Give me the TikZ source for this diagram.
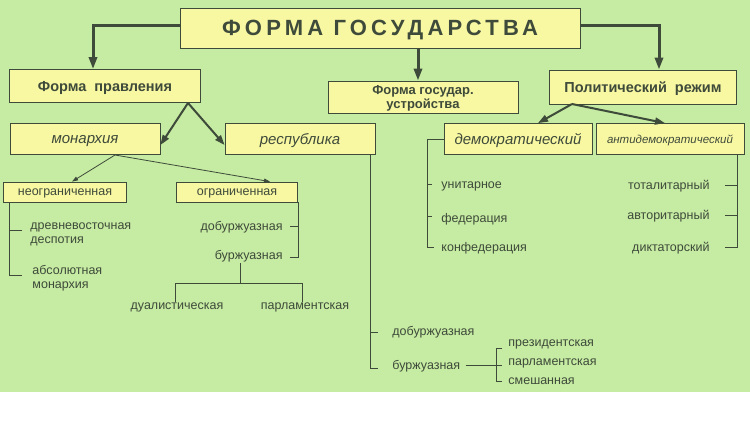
\documentclass[tikz,border=0pt]{standalone}
\usepackage{fontspec}
\setmainfont{Liberation Sans}
\usetikzlibrary{arrows.meta}
\definecolor{bg}{HTML}{C6EBA2}
\definecolor{boxfill}{HTML}{F8F7A2}
\definecolor{ink}{HTML}{3E4A3A}
\begin{document}
\begin{tikzpicture}[x=1pt, y=-1pt, line width=0.9pt, draw=ink,
	box/.style={draw=ink, fill=boxfill, line width=0.8pt, inner sep=0pt, text=ink, text depth=0pt},
	txt/.style={inner sep=0pt, text=ink, text depth=0pt, font=\fontsize{12.5}{14}\selectfont},
	big/.style={-{Triangle[length=12pt, width=8pt]}, line width=3pt, ink},
	mid/.style={-{Triangle[length=10pt, width=7pt]}, line width=2pt, ink},
	thin/.style={-{Triangle[length=6pt, width=4pt]}, line width=0.8pt, ink}]
	\useasboundingbox (0,0) rectangle (750,426);
	\fill[bg] (0,0) rectangle (750,392);
	\fill[white] (0,392) rectangle (750,426);

	% top row
	\node[box, minimum width=400, minimum height=40, font=\bfseries\fontsize{22}{22}\selectfont\addfontfeatures{LetterSpace=19}] (title) at (380,28) {ФОРМА ГОСУДАРСТВА};
	\node[box, minimum width=191, minimum height=33, font=\bfseries\fontsize{14.5}{15}\selectfont] (prav) at (105,86) {Форма\ \ правления};
	\node[box, minimum width=190, minimum height=32, align=center, font=\bfseries\fontsize{13}{11}\selectfont] (ustr) at (423,97) {Форма государ.\\устройства};
	\node[box, minimum width=187, minimum height=34, font=\bfseries\fontsize{14.5}{15}\selectfont] (rezh) at (643,87) {Политический\ \ режим};

	% second row
	\node[box, minimum width=150, minimum height=31, font=\itshape\fontsize{15}{15}\selectfont] (mon) at (85,139) {монархия};
	\node[box, minimum width=150, minimum height=31, font=\itshape\fontsize{15}{15}\selectfont] (resp) at (300,139) {республика};
	\node[box, minimum width=148, minimum height=31, font=\itshape\fontsize{15}{15}\selectfont] (dem) at (518,139) {демократический};
	\node[box, minimum width=148, minimum height=31, font=\itshape\fontsize{11.5}{12}\selectfont] (antidem) at (670,139) {антидемократический};
	\node[box, minimum width=123, minimum height=20, font=\fontsize{12.5}{13}\selectfont] (neogr) at (65,192) {неограниченная};
	\node[box, minimum width=121, minimum height=20, font=\fontsize{12.5}{13}\selectfont] (ogr) at (237,192) {ограниченная};

	% arrows
	\draw[big] (title.west |- 0,25) -| (prav.north -| 93,0);
	\draw[big] (title.south -| 418,0) -- (ustr.north -| 418,0);
	\draw[big] (title.east |- 0,25) -| (rezh.north -| 659,0);
	\draw[mid] (188,103) -- (mon.east |- 0,145);
	\draw[mid] (188,103) -- (resp.west |- 0,145);
	\draw[mid] (572,104) -- (dem.north -| 538,0);
	\draw[mid] (572,104) -- (antidem.north -| 665,0);
	\draw[thin] (115,155) -- (neogr.north -| 72,0);
	\draw[thin] (115,155) -- (ogr.north -| 270,0);

	% leaves under неограниченная
	\node[txt, anchor=west, align=left] (drev) at (30,233) {древневосточная\\деспотия};
	\node[txt, anchor=west, align=left] (abs) at (32,277) {абсолютная\\монархия};
	\draw (neogr.south -| 9,0) -- (9,275) -- (22,275);
	\draw (9,230) -- (22,230);

	% leaves under ограниченная
	\node[txt, anchor=east] (dob1) at (283,226) {добуржуазная};
	\node[txt, anchor=east] (bur1) at (283,255) {буржуазная};
	\node[txt] (dual) at (177,306) {дуалистическая};
	\node[txt] (parl1) at (305,306) {парламентская};
	\draw (ogr.south -| 298,0) -- (298,257) -- (290,257);
	\draw (298,226) -- (290,226);
	\draw (240,263) -- (240,283);
	\draw (dual.north -| 175,0) -- (175,283) -- (302,283) -- (parl1.north -| 302,0);

	% leaves under республика
	\node[txt, anchor=west] (dob2) at (392,331) {добуржуазная};
	\node[txt, anchor=west] (bur2) at (392,365) {буржуазная};
	\node[txt, anchor=west] (prez) at (508,343) {президентская};
	\node[txt, anchor=west] (parl2) at (508,362) {парламентская};
	\node[txt, anchor=west] (smesh) at (508,381) {смешанная};
	\draw (resp.south -| 370,0) -- (370,368) -- (378,368);
	\draw (370,332) -- (378,332);
	\draw (bur2.east) ++(5,0) -- (bur2.east -| 502,0);
	\draw (502,348) -- (496,348) -- (496,381) -- (502,381);

	% устройство
	\node[txt, anchor=west] (unit) at (441,185) {унитарное};
	\node[txt, anchor=west] (fed) at (441,218) {федерация};
	\node[txt, anchor=west] (konf) at (441,247) {конфедерация};
	\draw (dem.west) -- (427,139) -- (427,247) -- (434,247);
	\draw (427,184) -- (432,184);
	\draw (427,216) -- (432,216);

	% антидемократический
	\node[txt, anchor=east] (tot) at (710,185) {тоталитарный};
	\node[txt, anchor=east] (avt) at (710,215) {авторитарный};
	\node[txt, anchor=east] (dikt) at (710,247) {диктаторский};
	\draw (antidem.south -| 737,0) -- (737,247) -- (725,247);
	\draw (737,185) -- (725,185);
	\draw (737,215) -- (725,215);
\end{tikzpicture}
\end{document}
